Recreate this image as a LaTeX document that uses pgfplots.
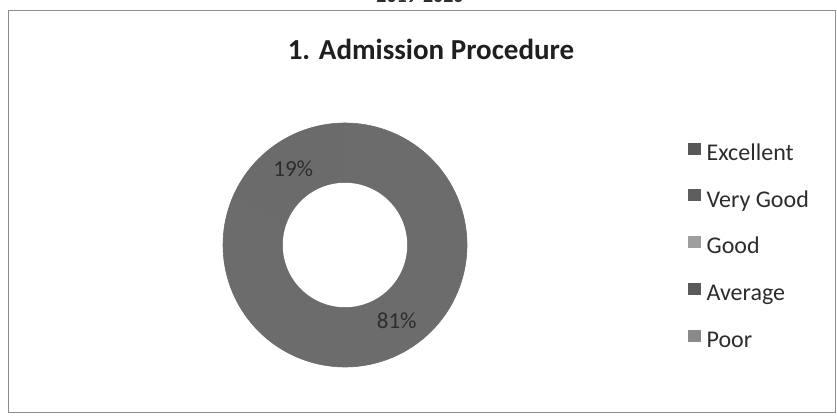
\documentclass[border=0pt]{standalone}
\usepackage{pgfplots}
\usepackage{pgfplotstable}
\pgfplotsset{compat=1.18}
\usepackage{fontspec}
\setmainfont{Carlito}
\definecolor{ringA}{RGB}{108,108,108}
\definecolor{ringB}{RGB}{107,107,107}
\definecolor{legA}{RGB}{88,88,88}
\definecolor{legB}{RGB}{94,94,94}
\definecolor{legC}{RGB}{158,158,158}
\definecolor{legD}{RGB}{90,90,90}
\definecolor{legE}{RGB}{138,138,138}
\definecolor{txt}{RGB}{45,45,45}

\pgfplotstableread{
category value
Excellent 81
VeryGood 19
Good 0
Average 0
Poor 0
}\ratings

\begin{document}
\begin{tikzpicture}[x=1pt,y=1pt]
\useasboundingbox (0,0) rectangle (837,417);
\fill[white] (0,0) rectangle (837,417);
\draw[black!45, line width=0.8pt] (8,5) rectangle (835,407);
\node[font=\bfseries\fontsize{20}{24}\selectfont, text=txt, anchor=base] at (420,414) {2019-2020};
\node[font=\bfseries\fontsize{29}{34}\selectfont, text=black!88] at (431,368) {1. Admission Procedure};

\pgfplotstablegetelem{0}{value}\of\ratings \let\vA\pgfplotsretval
\pgfplotstablegetelem{1}{value}\of\ratings \let\vB\pgfplotsretval
\pgfmathsetmacro{\endA}{90-3.6*\vA}
\pgfmathsetmacro{\endB}{\endA-3.6*\vB}
\pgfmathsetmacro{\midA}{(90+\endA)/2}
\pgfmathsetmacro{\midB}{(\endA+\endB)/2}

\begin{axis}[
  at={(345pt,172pt)}, anchor=center,
  scale only axis, width=244pt, height=244pt,
  xmin=-1, xmax=1, ymin=-1, ymax=1,
  hide axis, clip=false,
  legend cell align=left,
  legend style={
    at={(rel axis cs:1.906,0.922)}, anchor=north west,
    draw=none, fill=none, inner sep=0pt,
    font=\fontsize{24}{28}\selectfont, text=txt,
    row sep=21.8pt,
    nodes={inner sep=1pt, text height=17pt, text depth=6pt},
  },
  legend image code/.code={\fill[#1] (0pt,1pt) rectangle (12pt,12pt); \path (17pt,0pt);},
]
\addplot[fill=ringA, draw=ringA, line width=0.6pt, domain=\endA:90, samples=120, forget plot]
  ({cos(x)},{sin(x)}) -- (axis cs:0,0) -- cycle;
\addplot[fill=ringB, draw=ringB, line width=0.6pt, domain=\endB:\endA, samples=40, forget plot]
  ({cos(x)},{sin(x)}) -- (axis cs:0,0) -- cycle;
\addplot[fill=white, draw=none, domain=0:360, samples=120, forget plot]
  ({0.51*cos(x)},{0.51*sin(x)}) -- cycle;
\node[font=\fontsize{23}{27}\selectfont, text=txt] at (axis cs:{0.755*cos(\midA)},{0.755*sin(\midA)}) {\vA\%};
\node[font=\fontsize{23}{27}\selectfont, text=txt] at (axis cs:{0.755*cos(\midB)},{0.755*sin(\midB)}) {\vB\%};
\addlegendimage{legA}\addlegendentry{Excellent}
\addlegendimage{legB}\addlegendentry{Very Good}
\addlegendimage{legC}\addlegendentry{Good}
\addlegendimage{legD}\addlegendentry{Average}
\addlegendimage{legE}\addlegendentry{Poor}
\end{axis}
\end{tikzpicture}
\end{document}
